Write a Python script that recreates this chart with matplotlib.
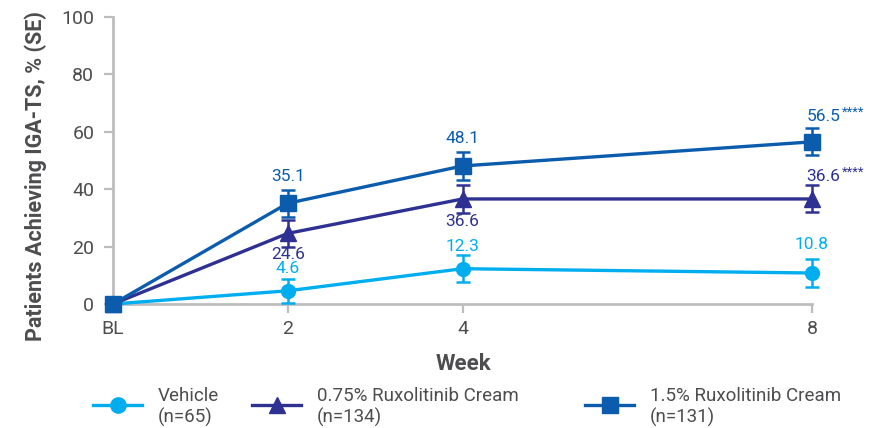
import matplotlib
matplotlib.use("Agg")
import matplotlib.pyplot as plt
from matplotlib.lines import Line2D

plt.rcParams["font.family"] = ["Roboto", "DejaVu Sans"]

# ---- data ----
weeks = [0, 2, 4, 8]
week_labels = ["BL", "2", "4", "8"]
series_names = ["Vehicle\n(n=65)", "0.75% Ruxolitinib Cream\n(n=134)", "1.5% Ruxolitinib Cream\n(n=131)"]
vehicle = [0, 4.6, 12.3, 10.8]
rux075 = [0, 24.6, 36.6, 36.6]
rux150 = [0, 35.1, 48.1, 56.5]
vehicle_se = [0, 4.2, 4.6, 4.8]
rux075_se = [0, 4.6, 4.8, 4.7]
rux150_se = [0, 4.7, 4.8, 4.7]
stars = ["", "", "", ""], ["", "", "", "****"], ["", "", "", "****"]

# ---- styling ----
colors = ["#00AEEF", "#2E3192", "#0B5CAD"]
markers = ["o", "^", "s"]
msizes = [10, 11, 11]
text_gray = "#4D4D4F"
axis_gray = "#BDBDBD"
# label offsets (points) relative to each marker: (dx, dy)
label_offsets = [
    [None, (0, 16), (0, 16), (0, 20.5)],
    [None, (0, -15), (0, -16), (0, 16)],
    [None, (0, 19.5), (0, 19.5), (0, 18.5)],
]

W, H = 896, 428
fig = plt.figure(figsize=(W / 100, H / 100), dpi=100)
ax_l, ax_r, ax_t, ax_b = 113, 812, 17, 304
ax = fig.add_axes([ax_l / W, 1 - ax_b / H, (ax_r - ax_l) / W, (ax_b - ax_t) / H])

all_vals = [vehicle, rux075, rux150]
all_se = [vehicle_se, rux075_se, rux150_se]
for i, (vals, se) in enumerate(zip(all_vals, all_se)):
    c = colors[i]
    ax.plot(weeks, vals, color=c, lw=2.4, marker=markers[i], ms=msizes[i],
            clip_on=False, zorder=3 + i)
    ax.errorbar(weeks[1:], vals[1:], yerr=se[1:], fmt="none", ecolor=c,
                elinewidth=1.8, capsize=5, capthick=1.8, clip_on=False, zorder=3 + i)
    for j in range(1, len(weeks)):
        dx, dy = label_offsets[i][j]
        star = stars[i][j]
        if star:
            t = ax.annotate(f"{vals[j]:.1f}", (weeks[j], vals[j]), xytext=(-4, dy),
                            textcoords="offset points", ha="left", va="center",
                            color=c, fontsize=12.5, zorder=10)
            ax.annotate(star, xy=(1, 0.78), xycoords=t, xytext=(1, 0),
                        textcoords="offset points", ha="left", va="center",
                        color=c, fontsize=9.5, zorder=10)
        else:
            ax.annotate(f"{vals[j]:.1f}", (weeks[j], vals[j]), xytext=(dx, dy),
                        textcoords="offset points", ha="center", va="center",
                        color=c, fontsize=12.5, zorder=10)

ax.set_xlim(0, 8)
ax.set_ylim(0, 100)
ax.set_xticks(weeks)
ax.set_xticklabels(week_labels)
ax.set_yticks(range(0, 101, 20))
for s in ["top", "right"]:
    ax.spines[s].set_visible(False)
for s in ["left", "bottom"]:
    ax.spines[s].set_color(axis_gray)
    ax.spines[s].set_linewidth(2)
ax.tick_params(axis="both", colors=axis_gray, width=1.6, length=6.5,
               labelcolor=text_gray, labelsize=14)
ax.tick_params(axis="y", pad=7)
ax.tick_params(axis="x", pad=5)

fig.text(36 / W, 1 - 176 / H, "Patients Achieving IGA-TS, % (SE)", rotation=90,
         ha="center", va="center", fontsize=15.5, fontweight="bold", color=text_gray)
fig.text(463 / W, 1 - 364 / H, "Week", ha="center", va="center",
         fontsize=16, fontweight="bold", color=text_gray)

# legend drawn in pixel space
leg = fig.add_axes([0, 0, 1, 1], zorder=-1)
leg.set_xlim(0, W)
leg.set_ylim(H, 0)
leg.axis("off")
leg_x = [93, 252, 585]
for i in range(3):
    x0 = leg_x[i]
    leg.add_line(Line2D([x0, x0 + 49], [405, 405], color=colors[i], lw=2.4))
    leg.plot([x0 + 24.5], [405], marker=markers[i], ms=msizes[i] + 1, color=colors[i])
    leg.text(x0 + 65, 407, series_names[i], ha="left", va="center",
             fontsize=13.5, color=text_gray, linespacing=1.2)

fig.savefig("out.png", dpi=100)
